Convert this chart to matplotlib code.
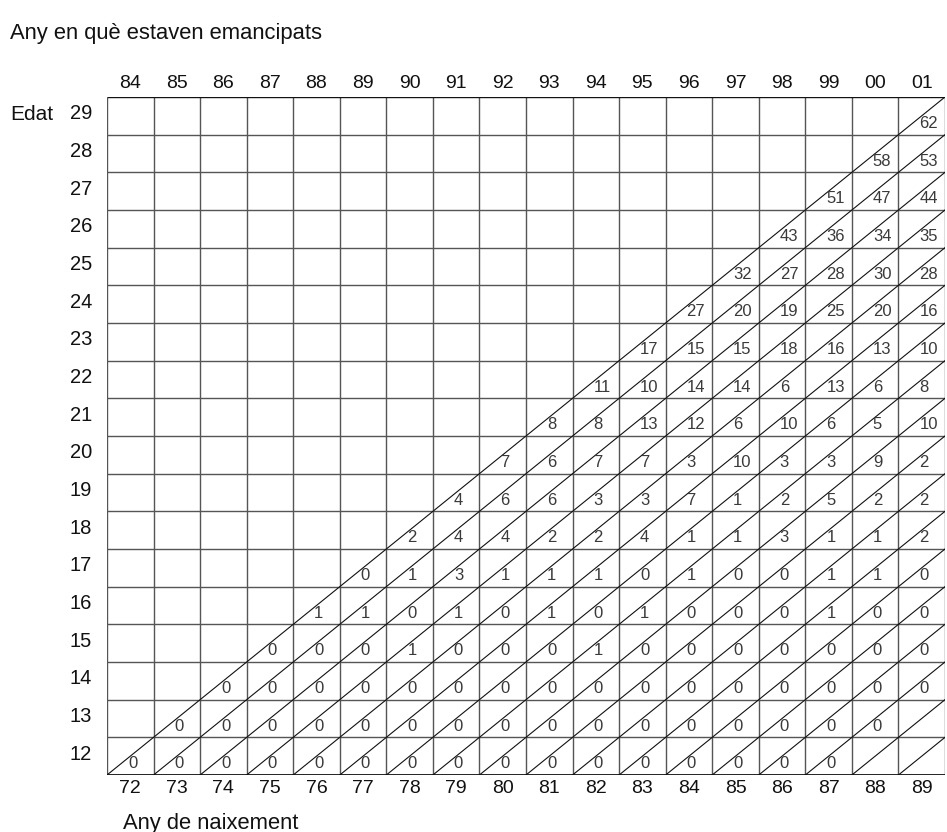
import matplotlib
matplotlib.use("Agg")
import matplotlib.pyplot as plt

plt.rcParams['font.family'] = ['Liberation Sans', 'DejaVu Sans']

# Column labels (year of observation) and bottom labels (birth year)
years_top = ['84', '85', '86', '87', '88', '89', '90', '91', '92', '93',
             '94', '95', '96', '97', '98', '99', '00', '01']
birth_years = ['72', '73', '74', '75', '76', '77', '78', '79', '80', '81',
               '82', '83', '84', '85', '86', '87', '88', '89']
ages = list(range(12, 30))

# Values per age row, right-aligned to the last column ('01'); None = no figure
age12 = [0] * 16 + [None, None]
age13 = [0] * 16 + [None]
age14 = [0] * 16
age15 = [0, 0, 0, 1, 0, 0, 0, 1, 0, 0, 0, 0, 0, 0, 0]
age16 = [1, 1, 0, 1, 0, 1, 0, 1, 0, 0, 0, 1, 0, 0]
age17 = [0, 1, 3, 1, 1, 1, 0, 1, 0, 0, 1, 1, 0]
age18 = [2, 4, 4, 2, 2, 4, 1, 1, 3, 1, 1, 2]
age19 = [4, 6, 6, 3, 3, 7, 1, 2, 5, 2, 2]
age20 = [7, 6, 7, 7, 3, 10, 3, 3, 9, 2]
age21 = [8, 8, 13, 12, 6, 10, 6, 5, 10]
age22 = [11, 10, 14, 14, 6, 13, 6, 8]
age23 = [17, 15, 15, 18, 16, 13, 10]
age24 = [27, 20, 19, 25, 20, 16]
age25 = [32, 27, 28, 30, 28]
age26 = [43, 36, 34, 35]
age27 = [51, 47, 44]
age28 = [58, 53]
age29 = [62]

rows = [age12, age13, age14, age15, age16, age17, age18, age19, age20,
        age21, age22, age23, age24, age25, age26, age27, age28, age29]

W, H = 947, 832
fig = plt.figure(figsize=(W / 100, H / 100), dpi=100)
L, R, T, B = 107, 945, 97, 775
ax = fig.add_axes([L / W, 1 - B / H, (R - L) / W, (B - T) / H])
n = len(years_top)
ax.set_xlim(0, n)
ax.set_ylim(0, len(ages))
ax.axis('off')

# grid
for i in range(n + 1):
    ax.plot([i, i], [0, len(ages)], color='#555555', lw=1.0, solid_capstyle='butt')
for j in range(len(ages) + 1):
    c = '#111111' if j in (0, len(ages)) else '#555555'
    ax.plot([0, n], [j, j], color=c, lw=1.3 if j == 0 else 1.0, solid_capstyle='butt')

# cohort diagonals
for k in range(len(birth_years)):
    ax.plot([k, n], [0, n - k], color='#111111', lw=0.8)

# cell values
for j, row in enumerate(rows):
    start = n - len(row)
    for idx, v in enumerate(row):
        if v is None:
            continue
        i = start + idx
        ax.text(i + 0.45, j + 0.30, str(v), ha='left', va='center',
                fontsize=12, color='#3a3a3a')

# labels
for i, lab in enumerate(years_top):
    ax.text(i + 0.5, n + 0.36, lab, ha='center', va='center', fontsize=14,
            color='#111111', clip_on=False)
for i, lab in enumerate(birth_years):
    ax.text(i + 0.5, -0.36, lab, ha='center', va='center', fontsize=14,
            color='#111111', clip_on=False)
for j, a in enumerate(ages):
    ax.text(-0.32, j + 0.55, str(a), ha='right', va='center', fontsize=14.5,
            color='#111111', clip_on=False)

fig.text(10 / W, 1 - 115 / H, 'Edat', ha='left', va='center', fontsize=15, color='#111111')
fig.text(10 / W, 1 - 33 / H, 'Any en què estaven emancipats', ha='left', va='center',
         fontsize=15.8, color='#111111')
fig.text(123 / W, 1 - 823 / H, 'Any de naixement', ha='left', va='center',
         fontsize=15.8, color='#111111')

fig.savefig('out.png', dpi=100, facecolor='white')
